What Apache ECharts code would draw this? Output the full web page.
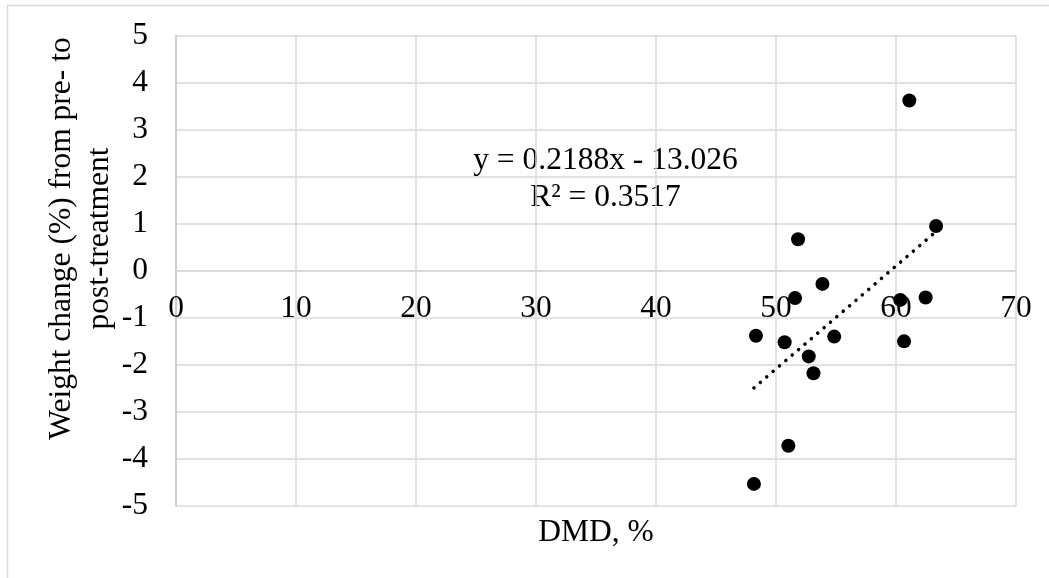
<!DOCTYPE html>
<html>
<head>
<meta charset="utf-8">
<script src="https://cdn.jsdelivr.net/npm/echarts@6/dist/echarts.min.js"></script>
<style>
  html, body { margin: 0; padding: 0; background: #ffffff; }
  #chart { width: 1049px; height: 578px; }
</style>
</head>
<body>
<div id="chart"></div>
<script>
// DMD (%) per subject and the matching weight change (%) from pre- to post-treatment
const dmd = [61.11, 51.84, 63.34, 53.87, 51.59, 60.36, 62.47, 48.33, 50.72, 54.85, 60.67, 52.73, 53.12, 51.03, 48.16];
const weightChange = [3.62, 0.67, 0.95, -0.28, -0.58, -0.62, -0.57, -1.38, -1.52, -1.40, -1.50, -1.82, -2.18, -3.72, -4.53];

// Linear trend line as reported on the chart
const slope = 0.2188;
const intercept = -13.026;
const rSquared = 0.3517;

// Axis ranges and ticks
const xMin = 0, xMax = 70, xStep = 10;
const yMin = -5, yMax = 5, yStep = 1;

const FONT = '"Liberation Serif", "Times New Roman", serif';
const FONT_SIZE = 31.5;
const GRID_COLOR = '#d9d9d9';

// Plot box in pixels
const GRID = { left: 176, right: 33, top: 35.5, bottom: 72 };
const plotHeight = 578 - GRID.top - GRID.bottom;
// Shift the x axis (line + labels) up so it crosses y = 0
const xAxisOffset = -plotHeight * (0 - yMin) / (yMax - yMin);

const points = dmd.map((x, i) => [x, weightChange[i]]);
const trendX0 = Math.min(...dmd);
const trendX1 = Math.max(...dmd);
const trend = [
  [trendX0, slope * trendX0 + intercept],
  [trendX1, slope * trendX1 + intercept]
];

const chart = echarts.init(document.getElementById('chart'), null, { renderer: 'canvas' });

chart.setOption({
  animation: false,
  backgroundColor: '#ffffff',
  grid: Object.assign({ outerBoundsMode: 'none', containLabel: false }, GRID),
  xAxis: {
    type: 'value',
    min: xMin, max: xMax, interval: xStep,
    position: 'bottom',
    offset: xAxisOffset,
    name: 'DMD, %',
    nameLocation: 'middle',
    nameGap: 246,
    nameTextStyle: { fontFamily: FONT, fontSize: FONT_SIZE, color: '#000' },
    axisLine: { show: true, onZero: false, lineStyle: { color: GRID_COLOR, width: 1.5 } },
    axisTick: { show: false },
    axisLabel: { fontFamily: FONT, fontSize: FONT_SIZE, color: '#000', margin: 22 },
    splitLine: { show: true, lineStyle: { color: GRID_COLOR, width: 1.5 } }
  },
  yAxis: {
    type: 'value',
    min: yMin, max: yMax, interval: yStep,
    axisLine: { show: true, onZero: false, lineStyle: { color: '#c8c8c8', width: 1.5 } },
    axisTick: { show: false },
    axisLabel: { fontFamily: FONT, fontSize: FONT_SIZE, color: '#000', margin: 28 },
    splitLine: { show: true, lineStyle: { color: GRID_COLOR, width: 1.5 } }
  },
  graphic: [
    {
      type: 'rect',
      silent: true,
      shape: { x: 7.5, y: 5.5, width: 1200, height: 800 },
      style: { fill: 'none', stroke: GRID_COLOR, lineWidth: 1.5 }
    },
    {
      type: 'text',
      silent: true,
      x: 81, y: 238.5,
      rotation: Math.PI / 2,
      style: {
        text: 'Weight change (%) from pre- to\npost-treatment',
        font: FONT_SIZE + 'px ' + FONT,
        fill: '#000',
        align: 'center',
        verticalAlign: 'middle',
        lineHeight: 38
      }
    },
    {
      type: 'text',
      silent: true,
      x: 605.5, y: 179,
      style: {
        text: 'y = ' + slope + 'x - ' + Math.abs(intercept) + '\nR² = ' + rSquared,
        font: FONT_SIZE + 'px ' + FONT,
        fill: '#000',
        align: 'center',
        verticalAlign: 'middle',
        lineHeight: 37
      }
    }
  ],
  series: [
    {
      type: 'line',
      data: trend,
      symbol: 'none',
      z: 2,
      lineStyle: { color: '#000', opacity: 1, width: 3.5, type: [0.1, 8.3], cap: 'round' }
    },
    {
      type: 'scatter',
      data: points,
      symbol: 'circle',
      symbolSize: 14,
      z: 3,
      itemStyle: { color: '#000', opacity: 1 }
    }
  ]
});
</script>
</body>
</html>
